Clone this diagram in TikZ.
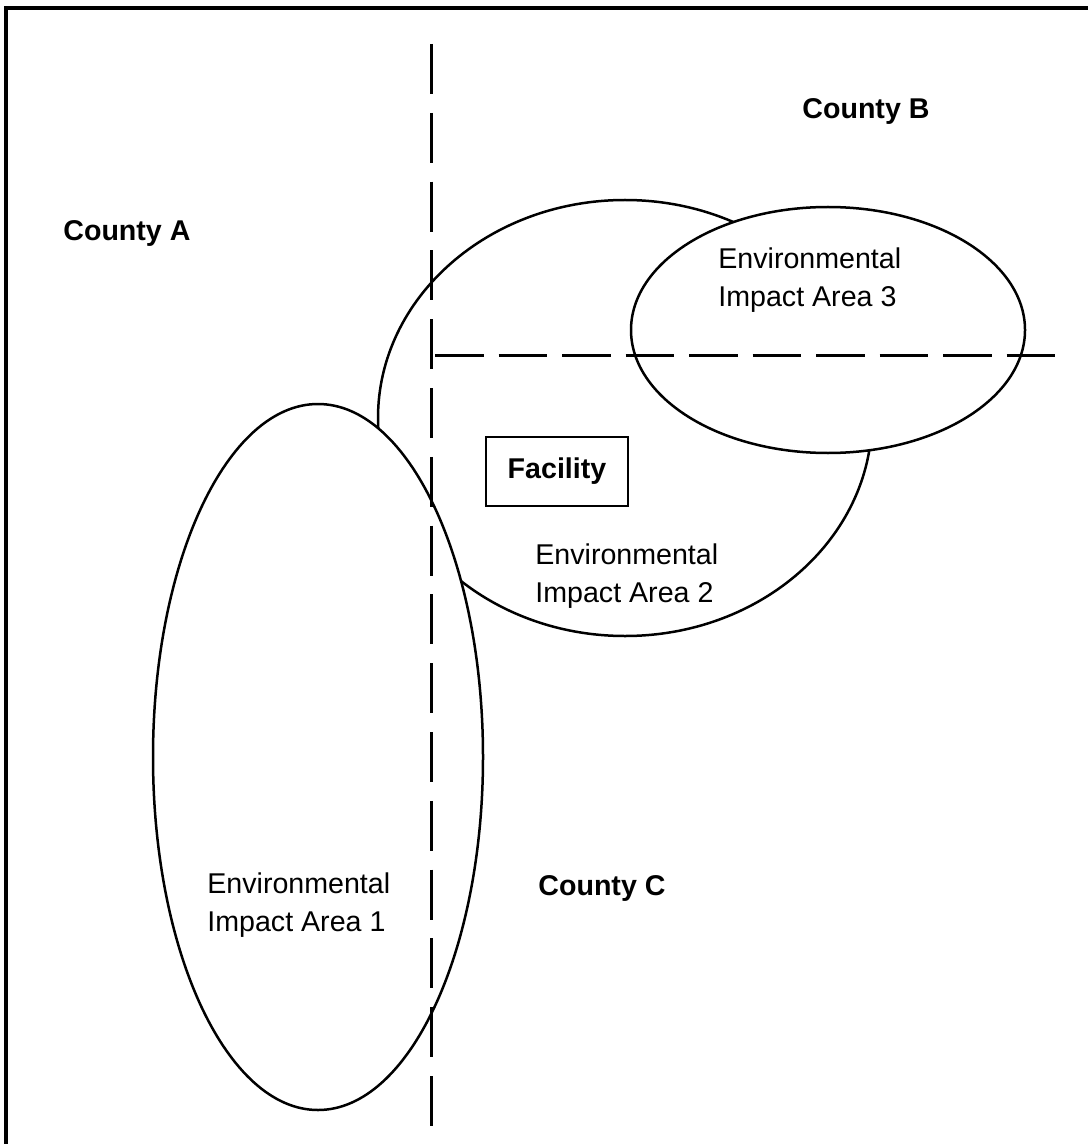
\documentclass[tikz,border=0pt]{standalone}
\usepackage{fontspec}
\setmainfont{Liberation Sans}
\usepackage{tikz}
\usetikzlibrary{calc}
\definecolor{linecolor}{HTML}{000000}

\begin{document}
\begin{tikzpicture}[x=0.5pt,y=-0.5pt,
    every node/.style={inner sep=0pt,font=\fontsize{14.3}{19}\selectfont},
    county/.style={anchor=north west,font=\fontsize{14.3}{19}\selectfont\bfseries},
    arealabel/.style={anchor=north west,align=left},
    area/.style={color=linecolor,line width=1.25pt,fill=white},
    border/.style={color=linecolor,line width=1.5pt}]
\useasboundingbox (0,0) rectangle (1088,1144);
% page frame, only top and left edge
\draw[color=linecolor,line width=1.75pt] (6,1144) -- (6,8) -- (1088,8);
% impact areas
\filldraw[area] (625,418) ellipse [x radius=247, y radius=218];
\filldraw[area] (828,330) ellipse [x radius=197, y radius=123];
\filldraw[area] (318,757) ellipse [x radius=165, y radius=353];
% county borders
\coordinate (vtop) at (431,44);
\coordinate (vbot) at (431,1126);
\coordinate (hleft) at (435,355);
\coordinate (hright) at (1057,355);
\draw[border,dash pattern=on 25pt off 9.4pt] (vtop) -- (vbot);
\draw[border,dash pattern=on 24.25pt off 7.5pt] (hleft) -- (hright);
\node[draw,line width=1.25pt,minimum width=71pt,minimum height=34.5pt,
      font=\fontsize{14.3}{19}\selectfont\bfseries] (facility) at (557,471.5) {Facility};
\foreach \n/\x/\y in {A/63/220, B/802/98, C/538/875}
    \node[county] (county\n) at (\x,\y) {County \n};
\foreach \n/\x/\y in {1/207/872, 2/535/543, 3/718/247}
    \node[arealabel] (area\n) at (\x,\y) {Environmental\\Impact Area \n};
\end{tikzpicture}
\end{document}
